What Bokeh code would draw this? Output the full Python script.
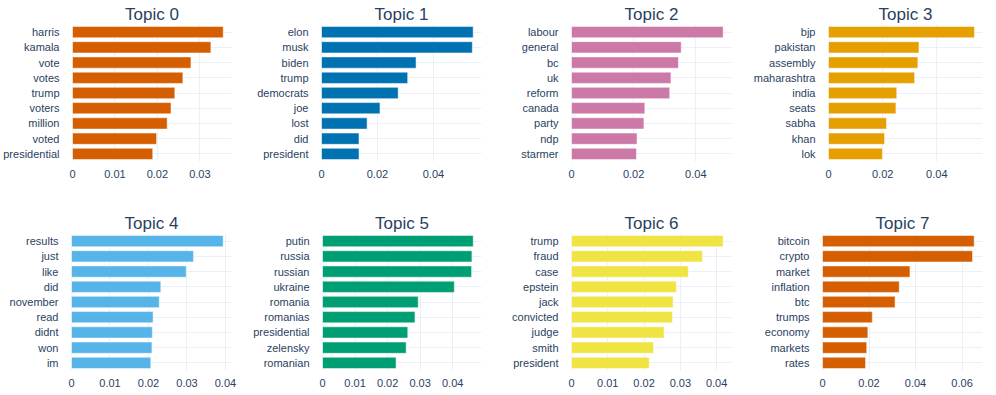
from bokeh.plotting import figure
from bokeh.models import FactorRange, Range1d, FixedTicker, CustomJSTickFormatter, Span
from bokeh.layouts import row, column
from bokeh.embed import file_html
from bokeh.resources import INLINE

topic_titles = ["Topic 0", "Topic 1", "Topic 2", "Topic 3", "Topic 4", "Topic 5", "Topic 6", "Topic 7"]

topic0_words = ["harris", "kamala", "vote", "votes", "trump", "voters", "million", "voted", "presidential"]
topic0_scores = [0.0355, 0.0326, 0.0279, 0.0260, 0.0241, 0.0232, 0.0223, 0.0198, 0.0189]

topic1_words = ["elon", "musk", "biden", "trump", "democrats", "joe", "lost", "did", "president"]
topic1_scores = [0.0542, 0.0539, 0.0338, 0.0308, 0.0274, 0.0209, 0.0163, 0.0134, 0.0134]

topic2_words = ["labour", "general", "bc", "uk", "reform", "canada", "party", "ndp", "starmer"]
topic2_scores = [0.0488, 0.0353, 0.0344, 0.0320, 0.0316, 0.0236, 0.0233, 0.0211, 0.0209]

topic3_words = ["bjp", "pakistan", "assembly", "maharashtra", "india", "seats", "sabha", "khan", "lok"]
topic3_scores = [0.0539, 0.0334, 0.0330, 0.0318, 0.0252, 0.0249, 0.0214, 0.0207, 0.0199]

topic4_words = ["results", "just", "like", "did", "november", "read", "didnt", "won", "im"]
topic4_scores = [0.0394, 0.0317, 0.0298, 0.0232, 0.0228, 0.0212, 0.0210, 0.0209, 0.0206]

topic5_words = ["putin", "russia", "russian", "ukraine", "romania", "romanias", "presidential", "zelensky", "romanian"]
topic5_scores = [0.0463, 0.0459, 0.0458, 0.0405, 0.0294, 0.0284, 0.0262, 0.0257, 0.0226]

topic6_words = ["trump", "fraud", "case", "epstein", "jack", "convicted", "judge", "smith", "president"]
topic6_scores = [0.0418, 0.0361, 0.0322, 0.0289, 0.0280, 0.0278, 0.0255, 0.0226, 0.0214]

topic7_words = ["bitcoin", "crypto", "market", "inflation", "btc", "trumps", "economy", "markets", "rates"]
topic7_scores = [0.0652, 0.0645, 0.0376, 0.0330, 0.0312, 0.0214, 0.0195, 0.0190, 0.0185]

topic0_ticks = [0, 0.01, 0.02, 0.03]
topic1_ticks = [0, 0.02, 0.04]
topic2_ticks = [0, 0.02, 0.04]
topic3_ticks = [0, 0.02, 0.04]
topic4_ticks = [0, 0.01, 0.02, 0.03, 0.04]
topic5_ticks = [0, 0.01, 0.02, 0.03, 0.04]
topic6_ticks = [0, 0.01, 0.02, 0.03, 0.04]
topic7_ticks = [0, 0.02, 0.04, 0.06]

all_words = [topic0_words, topic1_words, topic2_words, topic3_words,
             topic4_words, topic5_words, topic6_words, topic7_words]
all_scores = [topic0_scores, topic1_scores, topic2_scores, topic3_scores,
              topic4_scores, topic5_scores, topic6_scores, topic7_scores]
all_ticks = [topic0_ticks, topic1_ticks, topic2_ticks, topic3_ticks,
             topic4_ticks, topic5_ticks, topic6_ticks, topic7_ticks]

colors = ["#D55E00", "#0072B2", "#CC79A7", "#E69F00", "#56B4E9", "#009E73", "#F0E442", "#D55E00"]

FONT = "Liberation Sans"
TEXT = "#2a3f5f"
GRID = "#EBF0F8"

col_widths = [250, 250, 250, 246]
col_left = [71, 71, 71, 72]
frame_w = 160
frame_h = 137
row_heights = [200, 195]
row_top = [24, 33]


def make_panel(i):
    r, c = divmod(i, 4)
    words = all_words[i]
    scores = all_scores[i]
    xmax = max(scores) * 1.055
    w = col_widths[c]
    h = row_heights[r]
    p = figure(width=w, height=h, output_backend="svg", toolbar_location=None,
               y_range=FactorRange(factors=list(reversed(words))),
               x_range=Range1d(0, xmax), title=topic_titles[i])
    p.min_border_left = col_left[c]
    p.min_border_right = w - col_left[c] - frame_w
    p.min_border_top = row_top[r]
    p.min_border_bottom = h - row_top[r] - frame_h
    p.outline_line_color = None
    p.background_fill_color = "white"
    p.border_fill_color = "white"

    p.title.align = "center"
    p.title.text_font = FONT
    p.title.text_font_size = "17px"
    p.title.text_font_style = "normal"
    p.title.text_color = TEXT
    p.title.standoff = 1

    p.hbar(y=words, right=scores, left=0, height=0.74, fill_color=colors[i],
           line_color="white", line_width=0.5)

    p.add_layout(Span(location=0, dimension="height", line_color=GRID, line_width=2, level="underlay"))

    p.xgrid.grid_line_color = GRID
    p.ygrid.grid_line_color = GRID
    p.xaxis.ticker = FixedTicker(ticks=all_ticks[i])
    p.xaxis.formatter = CustomJSTickFormatter(code="return tick == 0 ? '0' : tick.toFixed(2);")
    for ax in (p.xaxis, p.yaxis):
        ax.axis_line_color = None
        ax.major_tick_line_color = None
        ax.minor_tick_line_color = None
        ax.major_label_text_font = FONT
        ax.major_label_text_font_size = "11px"
        ax.major_label_text_color = TEXT
    p.xaxis.major_label_standoff = 2
    p.yaxis.major_label_standoff = 7
    return p


panels = [make_panel(i) for i in range(8)]
layout = column(row(*panels[:4], spacing=0), row(*panels[4:], spacing=0), spacing=0)

open("out.html", "w").write(file_html(layout, INLINE))
